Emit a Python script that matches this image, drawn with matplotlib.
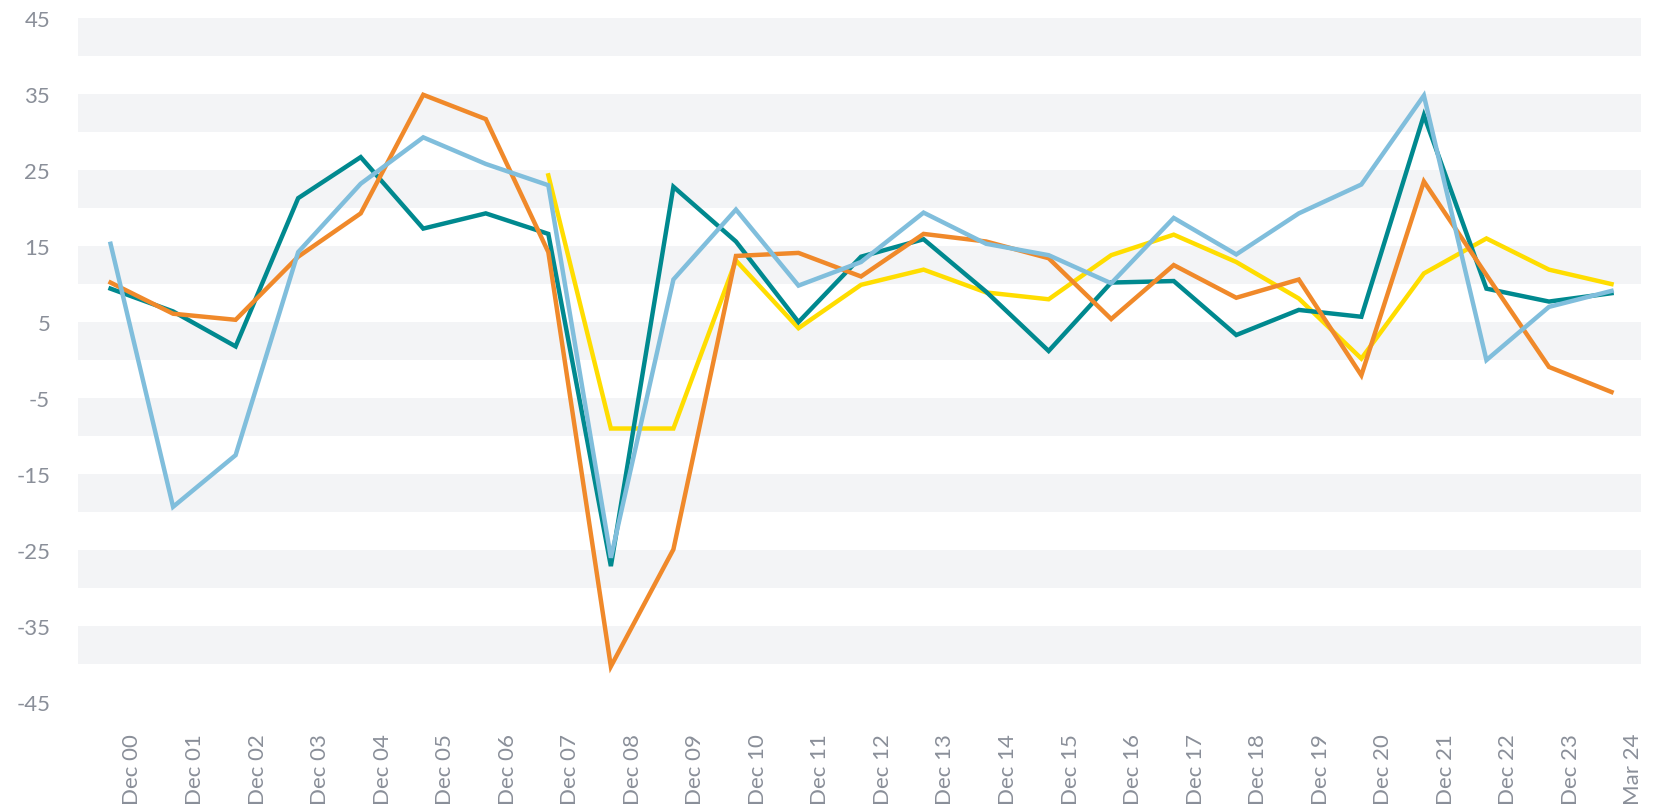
import numpy as np
import matplotlib
matplotlib.use("Agg")
import matplotlib.pyplot as plt

plt.rcParams["font.family"] = ["Lato", "DejaVu Sans"]

# categories along the x axis
periods = ["Dec 00", "Dec 01", "Dec 02", "Dec 03", "Dec 04", "Dec 05", "Dec 06",
           "Dec 07", "Dec 08", "Dec 09", "Dec 10", "Dec 11", "Dec 12", "Dec 13",
           "Dec 14", "Dec 15", "Dec 16", "Dec 17", "Dec 18", "Dec 19", "Dec 20",
           "Dec 21", "Dec 22", "Dec 23", "Mar 24"]

# series values
teal = [9.4, 6.4, 1.8, 21.3, 26.7, 17.3, 19.3, 16.6, -27.1, 22.8, 15.6, 5.0, 13.6,
        15.9, 9.0, 1.2, 10.2, 10.4, 3.3, 6.6, 5.7, 32.2, 9.4, 7.7, 8.8]
light_blue = [15.3, -19.3, -12.5, 14.2, 23.2, 29.3, 25.8, 23.0, -26.0, 10.6, 19.8,
              9.8, 12.9, 19.4, 15.3, 13.8, 10.1, 18.7, 13.9, 19.3, 23.1, 34.8, 0.0,
              7.0, 9.1]
orange = [10.2, 6.1, 5.3, 13.6, 19.3, 34.9, 31.7, 14.2, -40.3, -24.9, 13.7, 14.1,
          11.0, 16.6, 15.6, 13.4, 5.4, 12.5, 8.2, 10.6, -2.0, 23.5, 11.2, -0.9, -4.2]
yellow = [None, None, None, None, None, None, None, 24.3, -9.0, -9.0, 13.1, 4.2,
          9.9, 11.9, 8.9, 8.0, 13.8, 16.5, 12.9, 8.1, 0.2, 11.4, 16.0, 11.9, 10.0]

y_ticks = [-45, -35, -25, -15, -5, 5, 15, 25, 35, 45]

text_color = "#8a8f99"

fig = plt.figure(figsize=(16.6, 8.12), dpi=100)
ax = fig.add_axes([0.047, 0.134, 0.9415, 0.8426])

# alternating grey bands
for t in y_ticks[:-1]:
    ax.axhspan(t + 5, t + 10, color="#f3f4f6", lw=0, zorder=0)

x = np.arange(len(periods))
yel = np.array([np.nan if v is None else v for v in yellow], dtype=float)

ax.plot(x, teal, color="#00898f", lw=3.2, solid_joinstyle="miter", zorder=3)
ax.plot(x, yel, color="#ffdd00", lw=3.2, solid_joinstyle="miter", zorder=2)
ax.plot(x, orange, color="#f0892a", lw=3.2, solid_joinstyle="miter", zorder=4)
ax.plot(x, light_blue, color="#80bedc", lw=3.2, solid_joinstyle="miter", zorder=5)

ax.set_xlim(-0.52, len(periods) - 0.53)
ax.set_ylim(-45, 45)

ax.set_yticks(y_ticks)
ax.set_yticklabels([str(t) for t in y_ticks])
ax.set_xticks(x + 0.35)
ax.set_xticklabels(periods, rotation=90)

ax.tick_params(axis="both", length=0, labelsize=16, colors=text_color)
ax.tick_params(axis="y", pad=20)
ax.tick_params(axis="x", pad=22)

for s in ax.spines.values():
    s.set_visible(False)

fig.savefig("out.png", dpi=100)
